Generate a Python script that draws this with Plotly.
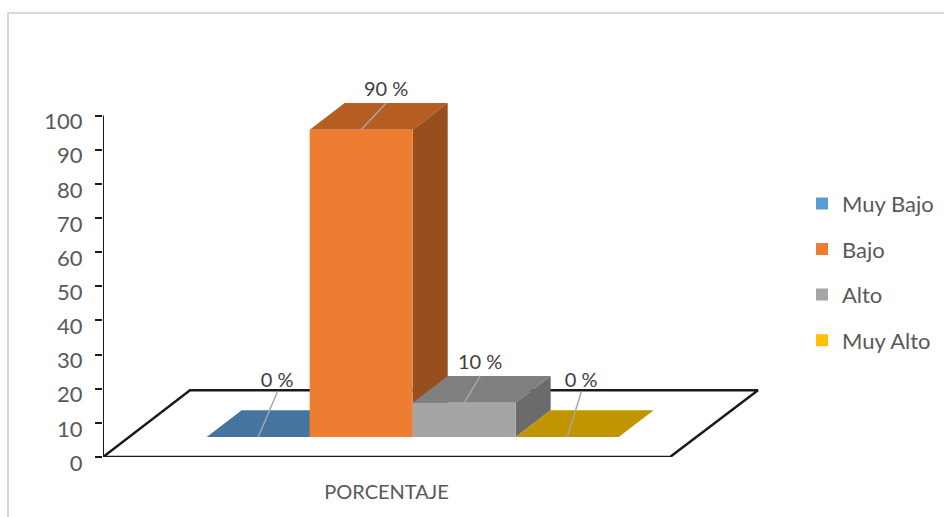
import plotly.graph_objects as go

# ---- data ----
categories = ["Muy Bajo", "Bajo", "Alto", "Muy Alto"]
values = [0, 90, 10, 0]
labels = ["0 %", "90 %", "10 %", "0 %"]
y_ticks = [0, 10, 20, 30, 40, 50, 60, 70, 80, 90, 100]
x_tick_label = ["PORCENTAJE"]

# ---- style ----
front_colors = ["#5B9BD5", "#ED7D31", "#A5A5A5", "#FFC000"]
top_colors = ["#44749F", "#B55D22", "#7F7F7F", "#C19500"]
side_colors = ["#3A6288", "#964F1D", "#6B6B6B", "#A37D00"]
FONT = "Lato, Carlito, sans-serif"
W, H = 944, 517
L, R, B, T = 103.0, 770.0, 456.7, 70.0

# ---- pseudo-3D geometry, in axis units ----
BAR = 1.0
PX_PER_X = 103.0
PX_PER_Y = 341.2 / 100.0
X0 = 258.2
x_range = [(L - X0) / PX_PER_X, (R - X0) / PX_PER_X]
y_range = [0, (B - T) / PX_PER_Y]
base = (B - 436.7) / PX_PER_Y
dx = 35.0 / PX_PER_X
dy = 26.7 / PX_PER_Y
leader_dx = [19 / PX_PER_X, 25 / PX_PER_X, 16 / PX_PER_X, 14 / PX_PER_X]
leader_dy = [44.7 / PX_PER_Y, 26.7 / PX_PER_Y, 27 / PX_PER_Y, 44.7 / PX_PER_Y]
label_gap = [10 / PX_PER_Y, 12 / PX_PER_Y, 12 / PX_PER_Y, 10 / PX_PER_Y]
floor_depth = (B - 390) / PX_PER_Y
floor_x = [x_range[0], x_range[0] + 87 / PX_PER_X, x_range[0] + 655 / PX_PER_X, x_range[0] + 567 / PX_PER_X, x_range[0]]
floor_y = [0, floor_depth, floor_depth, 0, 0]
x_tick_pos = x_range[0] + 283.5 / PX_PER_X

fig = go.Figure()

# Floor
fig.add_trace(go.Scatter(x=floor_x, y=floor_y, mode="lines", line=dict(color="#1a1a1a", width=2.5),
                         showlegend=False, hoverinfo="skip"))
# Value-axis spine, stopping at the last tick
fig.add_trace(go.Scatter(x=[x_range[0], x_range[0]], y=[y_ticks[0], y_ticks[-1]], mode="lines",
                         line=dict(color="#1a1a1a", width=2), cliponaxis=False,
                         showlegend=False, hoverinfo="skip"))

# Tops and sides (behind front faces)
for i, v in enumerate(values):
    l, r = i - BAR / 2, i + BAR / 2
    top = base + v
    fig.add_trace(go.Scatter(x=[l, r, r + dx, l + dx, l], y=[top, top, top + dy, top + dy, top],
                             mode="lines", fill="toself", fillcolor=top_colors[i], line=dict(width=0),
                             showlegend=False, hoverinfo="skip"))
    if v > 0:
        fig.add_trace(go.Scatter(x=[r, r + dx, r + dx, r, r],
                                 y=[base, base + dy, top + dy, top, base],
                                 mode="lines", fill="toself", fillcolor=side_colors[i], line=dict(width=0),
                                 showlegend=False, hoverinfo="skip"))

# Front faces on an overlaid, matching axis pair so they sit above the tops
for i, (c, v) in enumerate(zip(categories, values)):
    fig.add_trace(go.Bar(x=[i], y=[v], base=base, width=BAR, name=c, legendgroup=c,
                         marker=dict(color=front_colors[i], line=dict(width=0)),
                         xaxis="x2", yaxis="y2"))

# Leader lines and labels
for i, (v, t) in enumerate(zip(values, labels)):
    top = base + v
    fig.add_trace(go.Scatter(x=[i, i + leader_dx[i]], y=[top, top + leader_dy[i]], mode="lines",
                             line=dict(color="#A6A6A6", width=1.5), xaxis="x2", yaxis="y2",
                             showlegend=False, hoverinfo="skip"))
    fig.add_trace(go.Scatter(x=[i + leader_dx[i]], y=[top + leader_dy[i] + label_gap[i]], mode="text",
                             text=[t], textposition="middle center",
                             textfont=dict(family=FONT, size=20, color="#404040"),
                             xaxis="x2", yaxis="y2", showlegend=False, hoverinfo="skip"))

px = lambda x: (x - L) / (R - L)
py = lambda y: (B - y) / (B - T)

fig.update_layout(
    width=W, height=H, autosize=False,
    margin=dict(l=L, r=W - R, t=T, b=H - B, pad=0, autoexpand=False),
    paper_bgcolor="white", plot_bgcolor="rgba(0,0,0,0)",
    barmode="overlay",
    font=dict(family=FONT, color="#595959"),
    xaxis=dict(range=x_range, showgrid=False, zeroline=False, showline=False,
               ticks="", tickmode="array", tickvals=[x_tick_pos], ticktext=x_tick_label,
               tickfont=dict(family=FONT, size=20, color="#595959"), ticklabelstandoff=21),
    yaxis=dict(range=y_range, showgrid=False, zeroline=False, showline=False,
               ticks="outside", ticklen=7, tickwidth=2, tickcolor="#1a1a1a", tickmode="array", tickvals=y_ticks,
               tickfont=dict(family=FONT, size=22, color="#595959"), ticklabelstandoff=8, ticklabelshift=6),
    xaxis2=dict(range=x_range, overlaying="x", visible=False),
    yaxis2=dict(range=y_range, overlaying="y", visible=False),
    legend=dict(x=px(802), y=py(182.5), xanchor="left", yanchor="top", orientation="v",
                font=dict(family=FONT, size=22, color="#595959"), tracegroupgap=14, bgcolor="rgba(0,0,0,0)"),
    shapes=[dict(type="path", xref="paper", yref="paper",
                 path=f"M {px(8)} {py(517)} L {px(8)} {py(13)} L {px(944)} {py(13)}",
                 line=dict(color="#D9D9D9", width=2), layer="below")],
)

fig.write_html("out.html", config=dict(displayModeBar=False),
               post_script="document.body.style.margin='0';document.body.style.overflow='hidden';")
